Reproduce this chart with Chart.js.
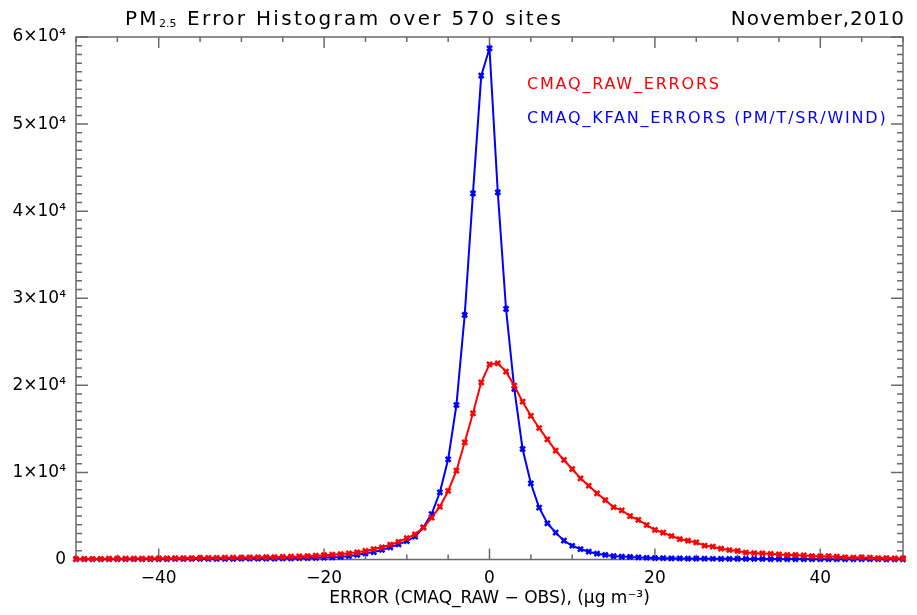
<!DOCTYPE html>
<html lang="en">
<head>
    <meta charset="UTF-8">
    <title>PM2.5 Error Histogram</title>
    <script src="https://cdn.jsdelivr.net/npm/chart.js"></script>
    <style>
        body { margin: 0; background: #fff; }
        #wrap { width: 917px; height: 615px; }
    </style>
</head>
<body>
    <div id="wrap"><canvas id="histChart" width="917" height="615"></canvas></div>

    <script>
        // bin centres, ug/m3
        const errorBins = [
            -50, -49, -48, -47, -46, -45, -44, -43, -42, -41,
            -40, -39, -38, -37, -36, -35, -34, -33, -32, -31,
            -30, -29, -28, -27, -26, -25, -24, -23, -22, -21,
            -20, -19, -18, -17, -16, -15, -14, -13, -12, -11,
            -10, -9, -8, -7, -6, -5, -4, -3, -2, -1,
            0, 1, 2, 3, 4, 5, 6, 7, 8, 9,
            10, 11, 12, 13, 14, 15, 16, 17, 18, 19,
            20, 21, 22, 23, 24, 25, 26, 27, 28, 29,
            30, 31, 32, 33, 34, 35, 36, 37, 38, 39,
            40, 41, 42, 43, 44, 45, 46, 47, 48, 49,
            50
        ];

        const rawCounts = [
            60, 70, 70, 80, 90, 90, 100, 110, 110, 120,
            130, 140, 150, 160, 170, 180, 190, 200, 210, 220,
            230, 250, 260, 270, 280, 300, 330, 350, 400, 440,
            500, 550, 630, 710, 830, 980, 1200, 1400, 1700, 2040,
            2450, 2890, 3650, 4800, 6060, 7870, 10200, 13460, 16790, 20350,
            22410, 22530, 21570, 19960, 18120, 16500, 15100, 13800, 12500, 11430,
            10390, 9320, 8470, 7600, 6830, 6000, 5650, 4990, 4540, 3960,
            3390, 3080, 2700, 2350, 2160, 1970, 1600, 1470, 1240, 1090,
            980, 800, 740, 700, 650, 580, 520, 520, 470, 400,
            350, 380, 320, 260, 230, 240, 210, 160, 170, 140,
            120
        ];

        const kfanCounts = [
            30, 30, 30, 30, 40, 40, 40, 40, 50, 50,
            50, 50, 60, 60, 60, 70, 70, 70, 80, 80,
            90, 90, 100, 100, 110, 120, 130, 150, 170, 190,
            220, 250, 300, 400, 520, 710, 850, 1090, 1400, 1740,
            2100, 2620, 3700, 5220, 7720, 11500, 17740, 28080, 42050, 55560,
            58700, 42170, 28770, 19580, 12690, 8750, 5950, 4160, 3080, 2160,
            1580, 1200, 900, 670, 520, 400, 340, 290, 240, 200,
            170, 150, 130, 120, 110, 100, 90, 85, 80, 75,
            70, 65, 60, 60, 55, 50, 50, 45, 45, 40,
            40, 40, 35, 35, 30, 30, 30, 30, 25, 25,
            25
        ];

        const seriesNames = ['CMAQ_RAW_ERRORS', 'CMAQ_KFAN_ERRORS (PM/T/SR/WIND)'];
        const xLabelTicks = [-40, -20, 0, 20, 40];
        const yLabelTicks = ['0', '1×10⁴', '2×10⁴', '3×10⁴', '4×10⁴', '5×10⁴', '6×10⁴'];

        const FONT = 'DejaVu Sans';

        const toPoints = (counts) => errorBins.map((b, i) => ({ x: b, y: counts[i] }));

        // IDL style box with inward ticks on all sides
        const idlAxes = {
            id: 'idlAxes',
            beforeDatasetsDraw(chart) {
                const { ctx, chartArea: a, scales: { x, y } } = chart;
                ctx.save();
                ctx.strokeStyle = '#6a6a6a';
                ctx.lineWidth = 1.5;
                ctx.strokeRect(a.left, a.top, a.right - a.left, a.bottom - a.top);
                ctx.beginPath();
                for (let v = -50; v <= 50; v += 5) {
                    const px = x.getPixelForValue(v);
                    const len = v % 20 === 0 ? 11 : 5;
                    ctx.moveTo(px, a.bottom); ctx.lineTo(px, a.bottom - len);
                    ctx.moveTo(px, a.top); ctx.lineTo(px, a.top + len);
                }
                for (let v = 0; v <= 60000; v += 1000) {
                    const py = y.getPixelForValue(v);
                    const len = v % 10000 === 0 ? 12 : 6;
                    ctx.moveTo(a.left, py); ctx.lineTo(a.left + len, py);
                    ctx.moveTo(a.right, py); ctx.lineTo(a.right - len, py);
                }
                ctx.stroke();
                ctx.restore();
            }
        };

        const headerAndLegend = {
            id: 'headerAndLegend',
            afterDraw(chart) {
                const { ctx } = chart;
                ctx.save();
                ctx.fillStyle = '#000';
                ctx.textBaseline = 'alphabetic';

                // title with subscript, spaced out like the IDL vector font
                let tx = 125;
                const base = 25;
                ctx.letterSpacing = '2.3px';
                ctx.font = `20px "${FONT}"`;
                ctx.textAlign = 'left';
                ctx.fillText('PM', tx, base);
                tx += ctx.measureText('PM').width;
                ctx.letterSpacing = '0px';
                ctx.font = `11px "${FONT}"`;
                ctx.fillText('2.5', tx, base + 2);
                tx += ctx.measureText('2.5').width + 2;
                ctx.letterSpacing = '2.3px';
                ctx.font = `20px "${FONT}"`;
                ctx.fillText(' Error Histogram over 570 sites', tx, base);

                ctx.letterSpacing = '1px';
                ctx.textAlign = 'right';
                ctx.fillText('November,2010', 905, base);

                // legend text only
                ctx.textAlign = 'left';
                ctx.font = `16px "${FONT}"`;
                ctx.letterSpacing = '1.8px';
                chart.data.datasets.forEach((ds, i) => {
                    ctx.fillStyle = ds.borderColor;
                    ctx.fillText(ds.label, 527, 89 + i * 34);
                });
                ctx.restore();
            }
        };

        const ctx = document.getElementById('histChart').getContext('2d');
        new Chart(ctx, {
            type: 'line',
            data: {
                datasets: [
                    {
                        label: seriesNames[0],
                        data: toPoints(rawCounts),
                        borderColor: '#ff0000',
                        backgroundColor: '#ff0000',
                        borderWidth: 2,
                        pointStyle: 'crossRot',
                        pointRadius: 3.5,
                        pointBorderWidth: 2.5,
                        tension: 0,
                        clip: false
                    },
                    {
                        label: seriesNames[1],
                        data: toPoints(kfanCounts),
                        borderColor: '#0000ff',
                        backgroundColor: '#0000ff',
                        borderWidth: 2,
                        pointStyle: 'crossRot',
                        pointRadius: 3.5,
                        pointBorderWidth: 2.5,
                        tension: 0,
                        clip: false
                    }
                ]
            },
            options: {
                responsive: false,
                animation: false,
                layout: { padding: { top: 37, right: 14, left: 0, bottom: 0 } },
                plugins: {
                    legend: { display: false },
                    tooltip: { enabled: false }
                },
                scales: {
                    x: {
                        type: 'linear',
                        min: -50,
                        max: 50,
                        afterFit: (s) => { s.height = 55.5; },
                        grid: { display: false, drawTicks: false },
                        border: { display: false },
                        ticks: {
                            stepSize: 5,
                            autoSkip: false,
                            maxRotation: 0,
                            padding: 9,
                            color: '#000',
                            font: { family: FONT, size: 17 },
                            callback: (v) => xLabelTicks.includes(v) ? (v < 0 ? '−' + Math.abs(v) : String(v)) : ''
                        },
                        title: {
                            display: true,
                            text: 'ERROR (CMAQ_RAW − OBS), (μg m⁻³)',
                            color: '#000',
                            font: { family: FONT, size: 17 },
                            padding: { top: 0, bottom: 6 }
                        }
                    },
                    y: {
                        min: 0,
                        max: 60000,
                        afterFit: (s) => { s.width = 76; },
                        grid: { display: false, drawTicks: false },
                        border: { display: false },
                        ticks: {
                            stepSize: 10000,
                            padding: 10,
                            color: '#000',
                            font: { family: FONT, size: 17 },
                            callback: (v) => yLabelTicks[Math.round(v / 10000)]
                        }
                    }
                }
            },
            plugins: [idlAxes, headerAndLegend]
        });
    </script>
</body>
</html>
